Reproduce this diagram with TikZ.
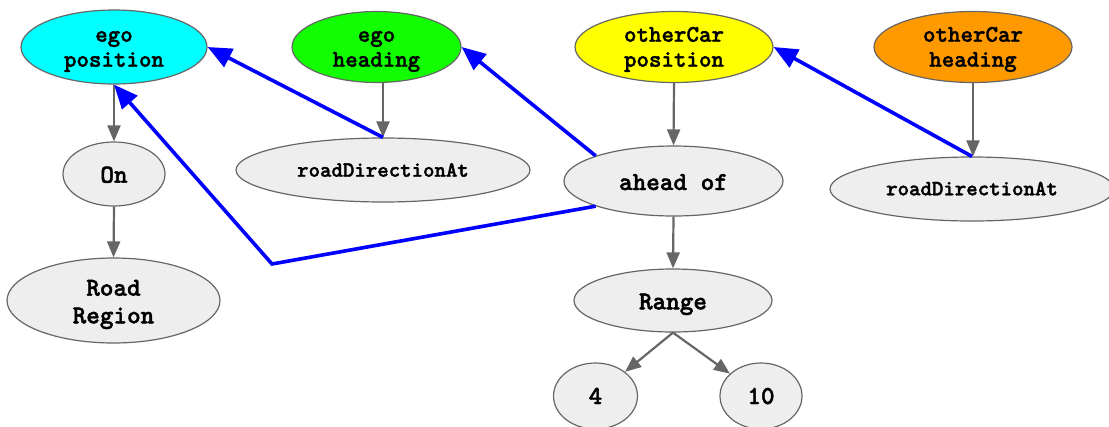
\documentclass[tikz,border=0pt]{standalone}
\usepackage{fontspec}
\setmonofont{lmmonolt10}[Extension=.otf, UprightFont=*-regular, BoldFont=*-bold, BoldFeatures={FakeBold=1.6}]
\usetikzlibrary{shapes.geometric,arrows.meta,calc}
\definecolor{edgegray}{HTML}{666666}
\definecolor{nodegray}{HTML}{EEEEEE}
\definecolor{egopos}{HTML}{00FFFF}
\definecolor{egohead}{HTML}{11FF00}
\definecolor{carpos}{HTML}{FFFF00}
\definecolor{carhead}{HTML}{FF9900}
\definecolor{linkblue}{HTML}{0000FF}
% label text: first baseline raised by #1 from the node centre
\newcommand{\lbl}[2]{\raisebox{#1}[0pt][0pt]{\begin{tabular}[t]{@{}c@{}}#2\end{tabular}}}
\tikzset{
  blob/.style={ellipse, draw=edgegray, line width=1.2pt, fill=nodegray,
    inner sep=0pt,
    font=\fontsize{25.9}{27.6}\selectfont\ttfamily\bfseries},
  varblob/.style={blob, font=\fontsize{23.8}{25}\selectfont\ttfamily\bfseries},
  fnblob/.style={blob, font=\fontsize{21.8}{23}\selectfont\ttfamily\bfseries},
  flow/.style={draw=edgegray, line width=2.2pt,
    -{Triangle[length=16pt,width=13pt]}},
  link/.style={draw=linkblue, line width=3.6pt, line join=miter,
    -{Triangle[length=24pt,width=20pt]}}
}
\begin{document}
\begin{tikzpicture}[x=1pt,y=-1pt]
\useasboundingbox (0,0) rectangle (1109,426);

% property nodes of the two cars
\node[varblob, fill=egopos, minimum width=186pt, minimum height=74pt] (egop) at (114,47) {\lbl{5.3pt}{ego\\position}};
\node[varblob, fill=egohead, minimum width=169pt, minimum height=71pt] (egoh) at (376.5,47) {\lbl{5.3pt}{ego\\heading}};
\node[varblob, fill=carpos, minimum width=198pt, minimum height=71pt] (ocp) at (674,47) {\lbl{5.3pt}{otherCar\\position}};
\node[varblob, fill=carhead, minimum width=198pt, minimum height=71pt] (och) at (973,47) {\lbl{5.3pt}{otherCar\\heading}};

% operators and values
\node[blob, minimum width=102pt, minimum height=64pt] (on) at (114,174) {\lbl{-8.7pt}{On}};
\node[fnblob, minimum width=294pt, minimum height=64pt] (rda1) at (383,170) {\lbl{-6.7pt}{roadDirectionAt}};
\node[blob, minimum width=219pt, minimum height=70pt] (ahead) at (673.5,181) {\lbl{-9pt}{ahead of}};
\node[fnblob, minimum width=284pt, minimum height=64pt] (rda2) at (972,189) {\lbl{-6.3pt}{roadDirectionAt}};
\node[blob, minimum width=213pt, minimum height=85pt] (road) at (113.5,300.5) {\lbl{4.8pt}{Road\\Region}};
\node[blob, minimum width=198pt, minimum height=63pt] (range) at (673,300.5) {\lbl{-8.8pt}{Range}};
\node[blob, minimum width=84pt, minimum height=66pt] (n4) at (595.5,396) {\lbl{-8pt}{4}};
\node[blob, minimum width=82pt, minimum height=66pt] (n10) at (761,396) {\lbl{-8pt}{10}};

\coordinate (bend) at (272,264);

% tree edges
\draw[flow] (egop.south) -- (on.north);
\draw[flow] (rda1.north |- egoh.south) -- (rda1.north);
\draw[flow] (ocp.south) -- (ahead.north);
\draw[flow] (och.south) -- (och.south |- rda2.north);
\draw[flow] (on.south) -- (road.north);
\draw[flow] (ahead.south) -- (range.north);
\draw[flow] (range.south) -- (n4);
\draw[flow] (range.south) -- (n10);

% dependency links
\draw[link] (rda1.north) -- (egop.east);
\draw[link] (ahead.north west) -- (egoh.east);
\draw[link] (ahead.south west) -- (bend) -- (egop.south);
\draw[link] (rda2.north) -- (ocp.east);
\end{tikzpicture}
\end{document}
